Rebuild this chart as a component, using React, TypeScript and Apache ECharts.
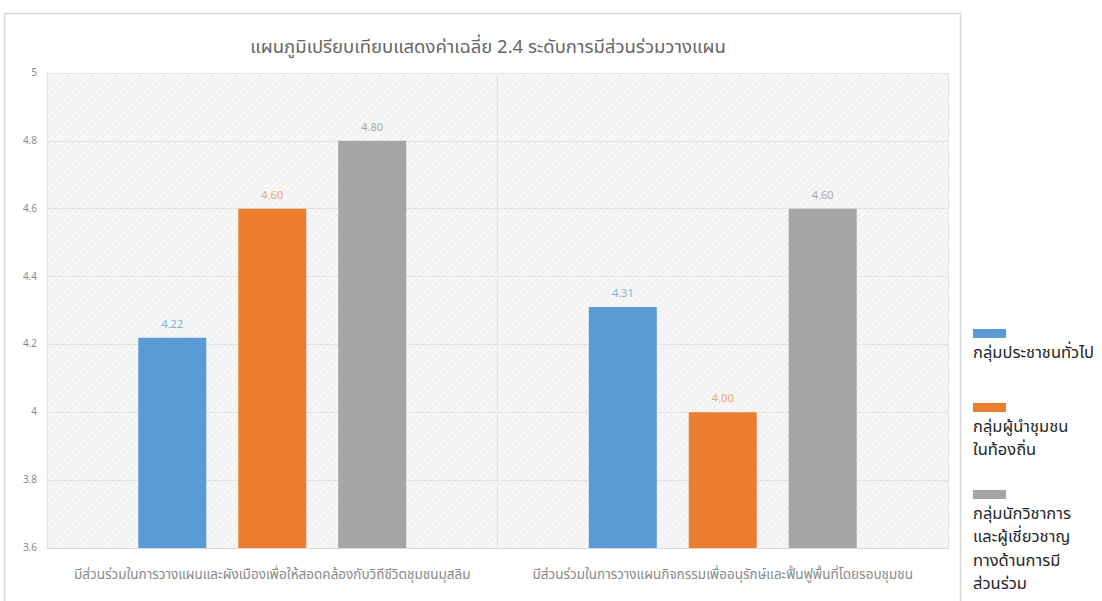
import React, { useEffect, useRef } from "react";
import * as echarts from "echarts";

const titleText = "แผนภูมิเปรียบเทียบแสดงค่าเฉลี่ย 2.4 ระดับการมีส่วนร่วมวางแผน";
const categories = [
  "มีส่วนร่วมในการวางแผนและผังเมืองเพื่อให้สอดคล้องกับวิถีชีวิตชุมชนมุสลิม",
  "มีส่วนร่วมในการวางแผนกิจกรรมเพื่ออนุรักษ์และฟื้นฟูพื้นที่โดยรอบชุมชน",
];
const seriesNames = [
  "กลุ่มประชาชนทั่วไป",
  "กลุ่มผู้นำชุมชนในท้องถิ่น",
  "กลุ่มนักวิชาการและผู้เชี่ยวชาญทางด้านการมีส่วนร่วม",
];
const legendLines = [
  ["กลุ่มประชาชนทั่วไป"],
  ["กลุ่มผู้นำชุมชน", "ในท้องถิ่น"],
  ["กลุ่มนักวิชาการ", "และผู้เชี่ยวชาญ", "ทางด้านการมี", "ส่วนร่วม"],
];
const generalPublic = [4.22, 4.31];
const communityLeaders = [4.6, 4.0];
const experts = [4.8, 4.6];
const yTicks = [3.6, 3.8, 4, 4.2, 4.4, 4.6, 4.8, 5];

const colors = ["#5B9BD5", "#ED7D31", "#A5A5A5"];
const labelColors = ["#7fb0de", "#f0a46e", "#a9a9a9"];

function makePattern(): HTMLCanvasElement {
  const c = document.createElement("canvas");
  c.width = 6;
  c.height = 6;
  const ctx = c.getContext("2d")!;
  ctx.fillStyle = "#f7f7f7";
  ctx.fillRect(0, 0, 6, 6);
  ctx.strokeStyle = "#ebebeb";
  ctx.lineWidth = 1;
  ctx.beginPath();
  ctx.moveTo(0, 6);
  ctx.lineTo(6, 0);
  ctx.stroke();
  return c;
}

export default function App() {
  const ref = useRef<HTMLDivElement>(null);
  useEffect(() => {
    if (!ref.current) return;
    const chart = echarts.init(ref.current, undefined, { renderer: "svg" });
    const font = "'Noto Sans Thai', 'Noto Sans', Tahoma, sans-serif";
    const dataSets = [generalPublic, communityLeaders, experts];
    const legendTops = [329, 403, 490];
    const graphics: any[] = [
      {
        type: "rect",
        shape: { x: 4.5, y: 13.5, width: 956, height: 640 },
        style: { fill: "none", stroke: "#d9d9d9", lineWidth: 1.5 },
        z: -10,
        silent: true,
      },
    ];
    legendLines.forEach((lines, i) => {
      graphics.push({
        type: "rect",
        shape: { x: 973, y: legendTops[i], width: 33, height: 9 },
        style: { fill: colors[i] },
      });
      lines.forEach((ln, j) => {
        graphics.push({
          type: "text",
          x: 973,
          y: legendTops[i] + 23 + j * 23.5,
          style: {
            text: ln,
            fill: "#262626",
            font: `16.5px ${font}`,
            textVerticalAlign: "middle",
            textAlign: "left",
          },
        });
      });
    });

    chart.setOption({
      animation: false,
      textStyle: { fontFamily: font },
      title: {
        text: titleText,
        left: 483,
        textAlign: "center",
        top: 32,
        textStyle: { color: "#666666", fontSize: 18.5, fontWeight: "normal", fontFamily: font },
      },
      grid: {
        left: 47,
        right: 154,
        top: 73,
        bottom: 53,
        show: true,
        borderWidth: 0,
        backgroundColor: { image: makePattern(), repeat: "repeat" } as any,
      },
      xAxis: {
        type: "category",
        data: categories,
        axisLine: { show: true, lineStyle: { color: "#d9d9d9" } },
        axisTick: { show: false },
        splitLine: { show: true, lineStyle: { color: "#e3e3e3" } },
        axisLabel: { color: "#8a8a8a", fontSize: 13.5, margin: 20, interval: 0 },
      },
      yAxis: {
        type: "value",
        min: 3.6,
        max: 5,
        interval: 0.2,
        axisLine: { show: false },
        axisTick: { show: false },
        splitLine: { lineStyle: { color: "#e3e3e3" } },
        axisLabel: {
          color: "#8a8a8a",
          fontSize: 10,
          margin: 10,
          formatter: (v: number) => {
            const t = yTicks.find((x) => Math.abs(x - v) < 1e-6);
            return t !== undefined ? String(t) : "";
          },
        },
      },
      series: dataSets.map((d, i) => ({
        type: "bar",
        name: seriesNames[i],
        data: d,
        barWidth: 68,
        barGap: "47%",
        itemStyle: { color: colors[i] },
        label: {
          show: true,
          position: "top",
          distance: 8,
          color: labelColors[i],
          fontSize: 11,
          formatter: (p: any) => Number(p.value).toFixed(2),
        },
      })),
      graphic: graphics,
    });
    return () => chart.dispose();
  }, []);
  return (
    <div
      ref={ref}
      style={{ position: "fixed", left: 0, top: 0, width: 1102, height: 601, background: "#fff" }}
    />
  );
}
